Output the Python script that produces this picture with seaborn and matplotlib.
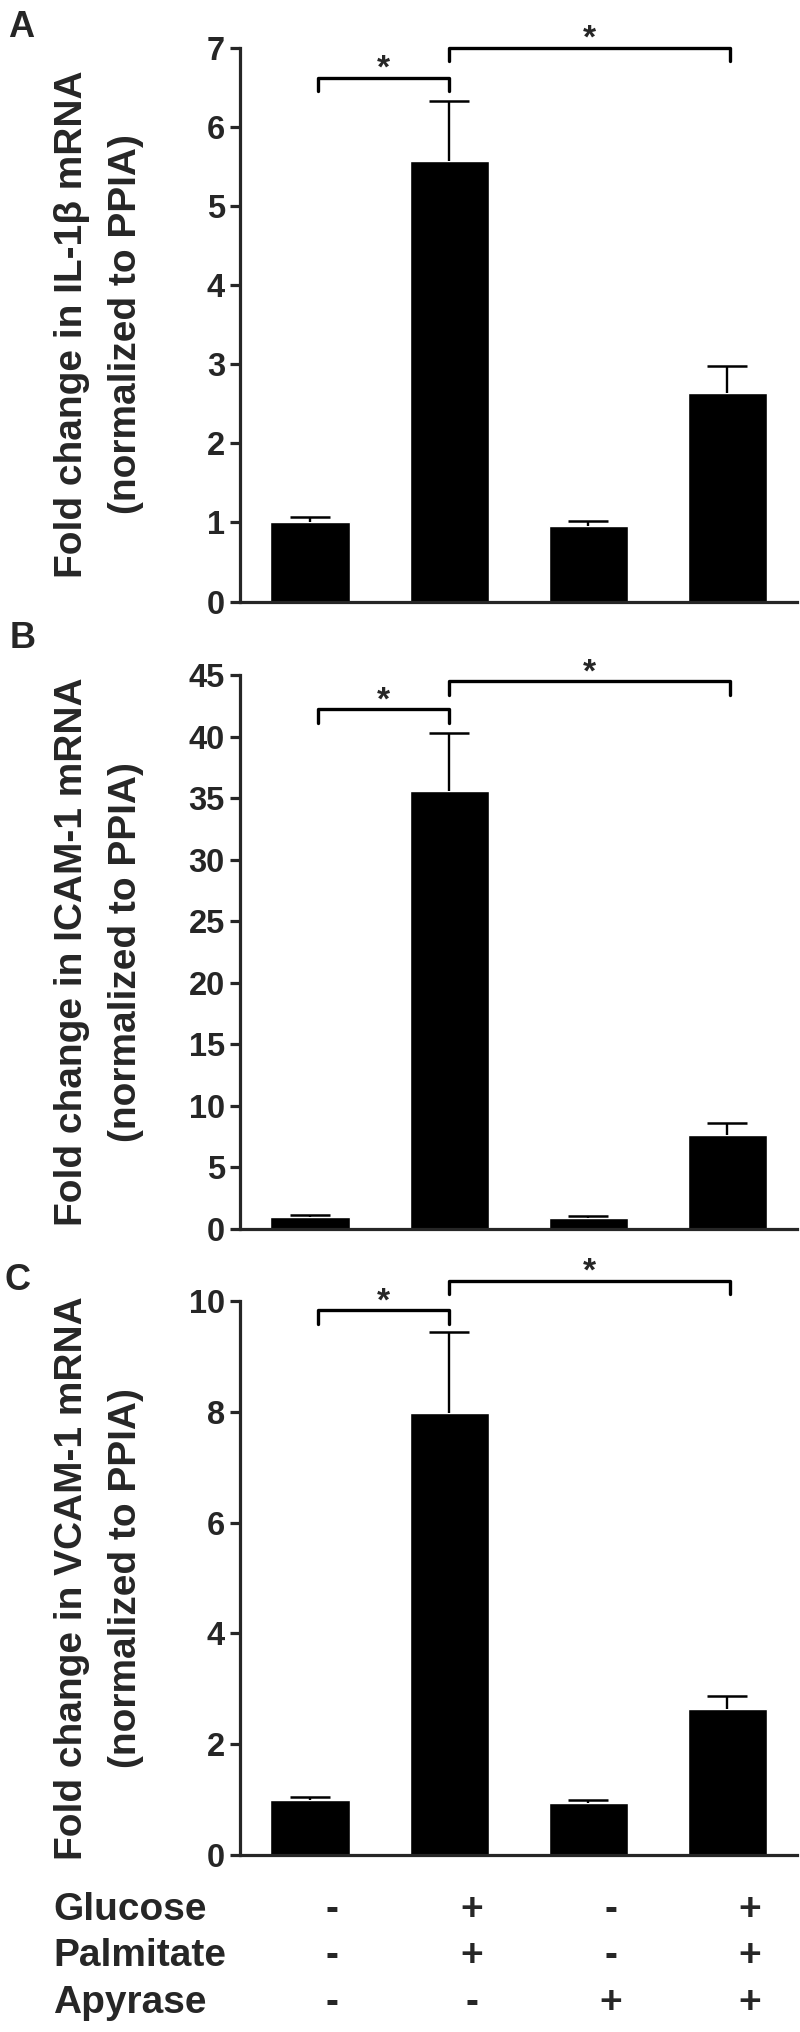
import matplotlib
matplotlib.use('Agg')
import matplotlib.pyplot as plt
import matplotlib.transforms as mtransforms
import numpy as np
import pandas as pd
import seaborn as sns

# four treatment conditions (see the +/- table under panel C)
groups = ['ctrl', 'glc_palm', 'apyrase', 'glc_palm_apyrase']

# fold change (mean) and upper error
il1b_mean = [1.01, 5.56, 0.95, 2.64]
il1b_err = [0.06, 0.77, 0.07, 0.34]
icam_mean = [1.00, 35.6, 0.92, 7.6]
icam_err = [0.13, 4.7, 0.11, 1.05]
vcam_mean = [1.00, 7.98, 0.94, 2.64]
vcam_err = [0.04, 1.46, 0.05, 0.23]

# significance bracket heights (data units) for each panel
il1b_brackets = [6.62, 7.0]
icam_brackets = [42.2, 44.5]
vcam_brackets = [9.83, 10.37]

# treatment table
glucose = ['-', '+', '-', '+']
palmitate = ['-', '+', '-', '+']
apyrase = ['-', '-', '+', '+']

sns.set_style('ticks')
plt.rcParams['font.family'] = ['Liberation Sans', 'DejaVu Sans']
plt.rcParams['font.weight'] = 'bold'

W, H = 800, 2032
fig = plt.figure(figsize=(W / 100, H / 100), dpi=100)

left = 240.5 / W
width = 556.5 / W
ax_h = 554 / H

panels = [
    ('A', 601.5, il1b_mean, il1b_err, 7, 1, 'Fold change in IL-1\u03b2 mRNA', il1b_brackets),
    ('B', 1229, icam_mean, icam_err, 45, 5, 'Fold change in ICAM-1 mRNA', icam_brackets),
    ('C', 1855, vcam_mean, vcam_err, 10, 2, 'Fold change in VCAM-1 mRNA', vcam_brackets),
]
letter_pos = {'A': (8, 10), 'B': (10, 621), 'C': (5, 1263)}

axes = []
for letter, bottom_px, mean, err, ymax, step, label, brackets in panels:
    ax = fig.add_axes([left, 1 - bottom_px / H, width, ax_h])
    df = pd.DataFrame({'group': groups, 'value': mean})
    sns.barplot(data=df, x='group', y='value', color='black', saturation=1,
                width=0.57, errorbar=None, ax=ax)
    # upper error bars only (lower half is hidden in the bar anyway)
    _, caps, _ = ax.errorbar(np.arange(len(groups)), mean,
                             yerr=[np.zeros(len(err)), err], fmt='none',
                             ecolor='black', elinewidth=1.7, capsize=14.5,
                             capthick=1.8, zorder=3)
    caps[0].set_visible(False)
    ax.set_xlim(-0.5, 3.5)
    ax.set_ylim(0, ymax)
    ax.set_yticks(np.arange(0, ymax + step / 2, step))
    ax.set_xticks([])
    ax.set_xlabel('')
    ax.set_ylabel('')
    sns.despine(ax=ax)
    for sp in ['left', 'bottom']:
        ax.spines[sp].set_linewidth(2.3)
    ax.tick_params(axis='y', direction='out', length=7.2, width=2.3,
                   labelsize=23.5, pad=4)
    for t in ax.get_yticklabels():
        t.set_fontweight('bold')

    # significance brackets
    drop = 0.025 * ymax
    for (x0, x1), y in zip([(0.06, 1.0), (1.0, 3.02)], brackets):
        ax.plot([x0, x0, x1, x1], [y - drop, y, y, y - drop], color='black',
                lw=2.4, clip_on=False, solid_capstyle='round')
        ax.text((x0 + x1) / 2, y, '*', ha='center', va='baseline',
                fontsize=24, fontweight='bold', clip_on=False)

    # two-line y label
    tr = mtransforms.blended_transform_factory(fig.transFigure, ax.transAxes)
    ax.text(72 / W, 0.5, label, transform=tr, rotation=90, ha='center',
            va='center', fontsize=28, fontweight='bold')
    ax.text(126 / W, 0.5, '(normalized to PPIA)', transform=tr, rotation=90,
            ha='center', va='center', fontsize=28, fontweight='bold')

    lx, ly = letter_pos[letter]
    fig.text(lx / W, 1 - ly / H, letter, ha='left', va='top', fontsize=26,
             fontweight='bold')
    axes.append(ax)

# treatment table under panel C
ax_c = axes[-1]
tr_tab = mtransforms.blended_transform_factory(ax_c.transData, fig.transFigure)
rows = [('Glucose', glucose, 1920), ('Palmitate', palmitate, 1966),
        ('Apyrase', apyrase, 2013)]
for name, signs, base_px in rows:
    fig.text(53 / W, 1 - base_px / H, name, ha='left', va='baseline',
             fontsize=28, fontweight='bold')
    for i, s in enumerate(signs):
        ax_c.text(i + 0.16, 1 - base_px / H, s, transform=tr_tab, ha='center',
                  va='baseline', fontsize=28, fontweight='bold', clip_on=False)

fig.savefig('out.png', dpi=100)
